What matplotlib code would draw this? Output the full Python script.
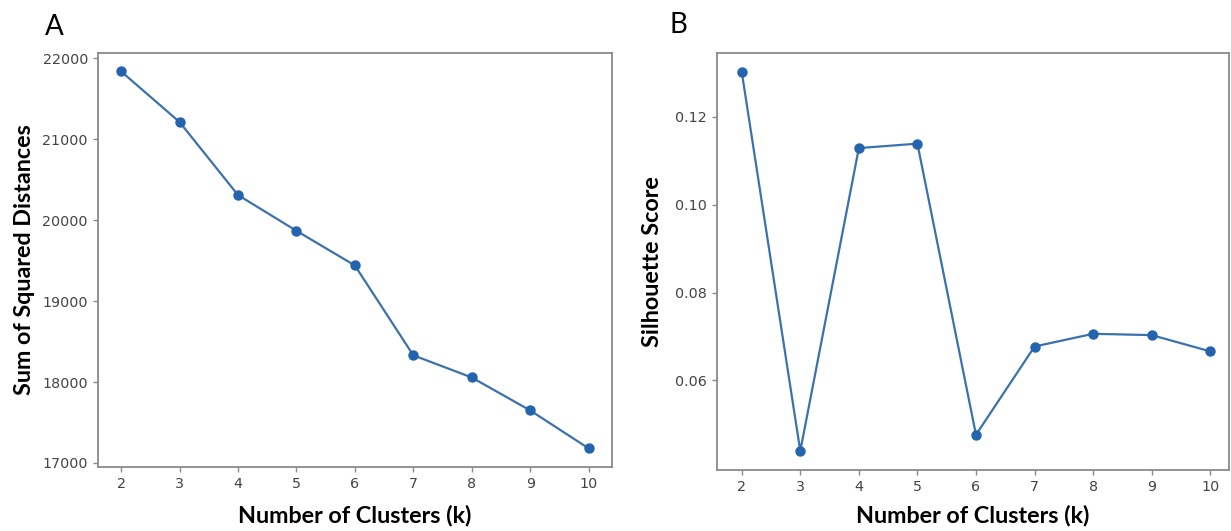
import matplotlib
matplotlib.use("Agg")
import matplotlib.pyplot as plt

k_values = [2, 3, 4, 5, 6, 7, 8, 9, 10]
ssd_values = [21837, 21212, 20310, 19868, 19440, 18330, 18056, 17649, 17180]
silhouette_values = [0.1303, 0.0439, 0.1129, 0.1139, 0.0476, 0.0677, 0.0706, 0.0703, 0.0666]
ssd_ticks = [17000, 18000, 19000, 20000, 21000, 22000]
sil_ticks = [0.06, 0.08, 0.10, 0.12]
sil_ticklabels = ["0.06", "0.08", "0.10", "0.12"]

W, H = 1231, 531
fig = plt.figure(figsize=(W / 100, H / 100), dpi=100)

line_color = "#3b72ad"
marker_color = "#2463ad"
spine_color = "#8a8a8a"
tick_color = "#444444"
label_font = "Lato"


def px_axes(left, right, top, bottom):
    return fig.add_axes([left / W, 1 - bottom / H, (right - left) / W, (bottom - top) / H])


def style(ax):
    for s in ax.spines.values():
        s.set_color(spine_color)
        s.set_linewidth(1.3)
    ax.tick_params(axis="both", colors=spine_color, labelcolor=tick_color,
                   labelsize=10.3, length=3.5, width=1.0)
    for lab in ax.get_xticklabels() + ax.get_yticklabels():
        lab.set_family("DejaVu Sans")


# Panel A
axA = px_axes(97.7, 612, 52.7, 467)
axA.plot(k_values, ssd_values, color=line_color, lw=1.6, marker="o",
         markersize=6.5, markerfacecolor=marker_color, markeredgecolor=marker_color)
axA.set_xticks(k_values)
axA.set_yticks(ssd_ticks)
axA.set_ylim(16950, 22068)
style(axA)
axA.set_xlabel("Number of Clusters (k)", fontsize=16.8, fontweight="bold",
               family=label_font, labelpad=10)
axA.set_ylabel("Sum of Squared Distances", fontsize=16.8, fontweight="bold",
               family=label_font, labelpad=5)
fig.text(45 / W, 1 - 35 / H, "A", fontsize=20, family=label_font, ha="left", va="baseline")

# Panel B
axB = px_axes(716.7, 1229, 52.7, 470)
axB.plot(k_values, silhouette_values, color=line_color, lw=1.6, marker="o",
         markersize=6.5, markerfacecolor=marker_color, markeredgecolor=marker_color)
axB.set_xticks(k_values)
axB.set_yticks(sil_ticks)
axB.set_yticklabels(sil_ticklabels)
axB.set_xlim(1.573, 10.32)
style(axB)
axB.set_xlabel("Number of Clusters (k)", fontsize=16.8, fontweight="bold",
               family=label_font, labelpad=8)
axB.set_ylabel("Silhouette Score", fontsize=16.8, fontweight="bold",
               family=label_font, labelpad=9)
fig.text(669 / W, 1 - 33 / H, "B", fontsize=20, family=label_font, ha="left", va="baseline")

fig.savefig("out.png", dpi=100)
